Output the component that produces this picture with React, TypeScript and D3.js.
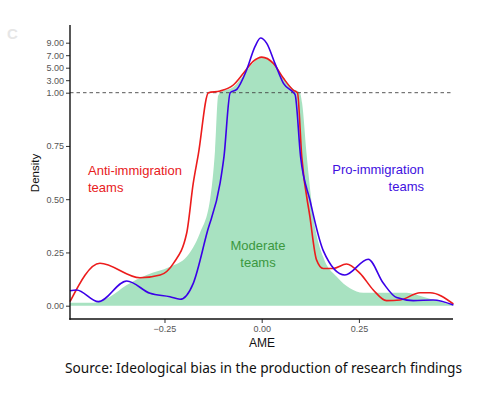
import { useEffect, useRef } from "react"
import * as d3 from "d3"

// AME grid and densities
const antiX = [-0.493, -0.416, -0.313, -0.261, -0.227, -0.193, -0.176, -0.163, -0.137, -0.107, -0.073, -0.047, -0.022, 0, 0.03, 0.056, 0.081, 0.092, 0.103, 0.124, 0.141, 0.158, 0.184, 0.218, 0.253, 0.287, 0.321, 0.356, 0.407, 0.433, 0.493]
const antiY = [0.019, 0.199, 0.131, 0.144, 0.199, 0.34, 0.575, 0.71, 1.0, 1.27, 2.23, 4.1, 6.0, 6.7, 5.7, 3.3, 1.43, 1.0, 0.7, 0.418, 0.215, 0.175, 0.175, 0.196, 0.152, 0.074, 0.024, 0.027, 0.061, 0.061, 0.008]

const proX = [-0.493, -0.476, -0.42, -0.347, -0.287, -0.236, -0.21, -0.176, -0.141, -0.107, -0.097, -0.081, -0.064, -0.039, -0.017, -0.003, 0.013, 0.034, 0.056, 0.081, 0.086, 0.1, 0.124, 0.158, 0.214, 0.274, 0.313, 0.347, 0.39, 0.441, 0.493]
const proY = [0.07, 0.074, 0.019, 0.116, 0.058, 0.042, 0.03, 0.105, 0.34, 0.575, 0.7, 1.0, 1.54, 4.6, 8.4, 9.75, 8.9, 5.7, 2.5, 1.06, 0.99, 0.7, 0.496, 0.26, 0.144, 0.218, 0.105, 0.038, 0.024, 0.027, 0.003]

const modX = [-0.493, -0.433, -0.39, -0.347, -0.296, -0.236, -0.193, -0.159, -0.133, -0.12, -0.112, -0.104, -0.073, -0.047, -0.022, 0, 0.03, 0.056, 0.081, 0.098, 0.104, 0.115, 0.133, 0.158, 0.193, 0.227, 0.261, 0.373, 0.415, 0.467, 0.493]
const modY = [0.014, 0.014, 0.042, 0.097, 0.144, 0.183, 0.23, 0.34, 0.496, 0.73, 0.986, 1.1, 1.9, 3.8, 5.8, 6.65, 5.75, 3.4, 1.6, 1.05, 0.95, 0.72, 0.418, 0.23, 0.136, 0.082, 0.061, 0.061, 0.042, 0.014, 0.002]

const yTicks = [0, 0.25, 0.5, 0.75, 1, 3, 5, 7, 9]
const xTicks = [-0.25, 0, 0.25]

export default function App() {
  const svgRef = useRef<SVGSVGElement>(null)

  useEffect(() => {
    if (!svgRef.current) return
    const svg = d3.select(svgRef.current)
    svg.selectAll("*").remove()

    const x = d3.scaleLinear().domain([-0.493, 0.492]).range([70, 453])
    // ось Y с разрывом: 0..1 растянута, выше 1 сжата
    const y = d3.scaleLinear().domain([0, 1, 9]).range([305.7, 92.7, 42.7])

    const pts = (xs: number[], ys: number[]) => xs.map((v, i) => [v, ys[i]] as [number, number])

    // Moderate — заливка
    const area = d3
      .area<[number, number]>()
      .x((d) => x(d[0]))
      .y0(y(0))
      .y1((d) => y(d[1]))
      .curve(d3.curveMonotoneX)
    svg.append("path").datum(pts(modX, modY)).attr("fill", "#a8e2c1").attr("d", area)

    // пунктир на уровне 1.00
    svg
      .append("line")
      .attr("x1", 70)
      .attr("x2", 453)
      .attr("y1", y(1))
      .attr("y2", y(1))
      .attr("stroke", "#444")
      .attr("stroke-width", 0.9)
      .attr("stroke-dasharray", "3.5,3")

    const line = d3
      .line<[number, number]>()
      .x((d) => x(d[0]))
      .y((d) => y(d[1]))
      .curve(d3.curveMonotoneX)

    svg.append("path").datum(pts(antiX, antiY)).attr("fill", "none").attr("stroke", "#ec1c1c").attr("stroke-width", 1.6).attr("d", line)
    svg.append("path").datum(pts(proX, proY)).attr("fill", "none").attr("stroke", "#3b00e8").attr("stroke-width", 1.6).attr("d", line)

    const font = "Liberation Sans, Arial, sans-serif"

    // оси
    const yAxis = svg
      .append("g")
      .attr("transform", "translate(70,0)")
      .call(d3.axisLeft(y).tickValues(yTicks).tickSize(4).tickPadding(2).tickFormat(d3.format(".2f") as any))
    yAxis.select(".domain").remove()
    yAxis.selectAll("text").attr("font-family", font).attr("font-size", 9).attr("fill", "#555")
    yAxis.selectAll("line").attr("stroke", "#333")

    const xAxis = svg
      .append("g")
      .attr("transform", "translate(0,319)")
      .call(d3.axisBottom(x).tickValues(xTicks).tickSize(4).tickPadding(3).tickFormat(d3.format(".2f") as any))
    xAxis.select(".domain").remove()
    xAxis.selectAll("text").attr("font-family", font).attr("font-size", 9).attr("fill", "#555")
    xAxis.selectAll("line").attr("stroke", "#333")

    svg.append("line").attr("x1", 70).attr("x2", 70).attr("y1", 25).attr("y2", 319.7).attr("stroke", "#111").attr("stroke-width", 1.4)
    svg.append("line").attr("x1", 69.3).attr("x2", 453).attr("y1", 319).attr("y2", 319).attr("stroke", "#111").attr("stroke-width", 1.4)

    svg
      .append("text")
      .attr("transform", "translate(39,173) rotate(-90)")
      .attr("text-anchor", "middle")
      .attr("font-family", font)
      .attr("font-size", 11.5)
      .attr("fill", "#111")
      .text("Density")

    svg.append("text").attr("x", 262).attr("y", 347).attr("text-anchor", "middle").attr("font-family", font).attr("font-size", 12).attr("fill", "#111").text("AME")

    // подписи групп
    const label = (lines: string[], tx: number, ty: number, anchor: string, color: string) => {
      lines.forEach((s, i) => {
        svg
          .append("text")
          .attr("x", tx)
          .attr("y", ty + i * 17)
          .attr("text-anchor", anchor)
          .attr("font-family", font)
          .attr("font-size", 13)
          .attr("fill", color)
          .text(s)
      })
    }
    label(["Anti-immigration", "teams"], 88, 175, "start", "#e8201c")
    label(["Pro-immigration", "teams"], 424, 174, "end", "#4010e0")
    label(["Moderate", "teams"], 258, 250, "middle", "#3b983f")

    svg.append("text").attr("x", 7).attr("y", 39).attr("font-family", font).attr("font-size", 15).attr("font-weight", "bold").attr("fill", "#e6e6e6").text("C")

    svg
      .append("text")
      .attr("x", 65)
      .attr("y", 372.5)
      .attr("font-family", "Noto Sans, Open Sans, sans-serif")
      .attr("font-size", 14.5)
      .attr("fill", "#111")
      .attr("textLength", 397)
      .attr("lengthAdjust", "spacingAndGlyphs")
      .text("Source: Ideological bias in the production of research findings")
  }, [])

  return (
    <svg
      ref={svgRef}
      width={494}
      height={401}
      style={{ position: "absolute", left: 0, top: 0, background: "#fff" }}
    />
  )
}
